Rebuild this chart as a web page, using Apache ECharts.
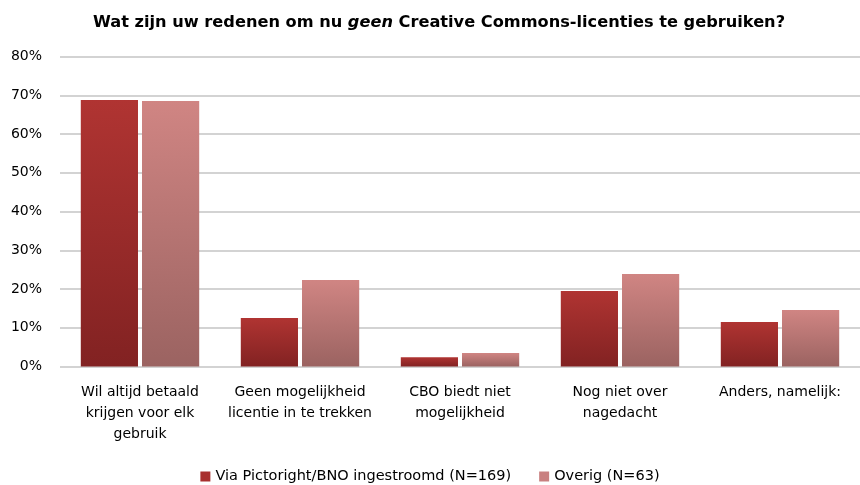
<!DOCTYPE html>
<html><head><meta charset="utf-8">
<script src="https://cdn.jsdelivr.net/npm/echarts@6/dist/echarts.min.js"></script>
<style>html,body{margin:0;padding:0;background:#fff}#c{width:860px;height:485px}</style>
</head><body><div id="c"></div>
<script>
var categories = ['Wil altijd betaald\nkrijgen voor elk\ngebruik', 'Geen mogelijkheid\nlicentie in te trekken', 'CBO biedt niet\nmogelijkheid', 'Nog niet over\nnagedacht', 'Anders, namelijk:'];
var seriesNames = ['Via Pictoright/BNO ingestroomd (N=169)', 'Overig (N=63)'];
var viaValues = [68.8, 12.5, 2.4, 19.5, 11.5];
var overigValues = [68.5, 22.3, 3.5, 23.9, 14.6];
var yTicks = [0, 10, 20, 30, 40, 50, 60, 70, 80];

var font = 'DejaVu Sans, Verdana, sans-serif';
var chart = echarts.init(document.getElementById('c'));
function grad(a, b) {
  return new echarts.graphic.LinearGradient(0, 0, 0, 1, [{offset: 0, color: a}, {offset: 1, color: b}]);
}
chart.setOption({
  animation: false,
  title: {
    text: '{b|Wat zijn uw redenen om nu }{i|geen}{b| Creative Commons-licenties te gebruiken?}',
    left: 434, textAlign: 'center', top: 10,
    textStyle: {
      rich: {
        b: {fontFamily: font, fontSize: 16.2, fontWeight: 'bold', color: '#000'},
        i: {fontFamily: font, fontSize: 16.2, fontWeight: 'bold', fontStyle: 'italic', color: '#000'}
      }
    }
  },
  grid: {left: 60, right: 0, top: 56.5, bottom: 118.5, containLabel: false},
  legend: {
    top: 464, left: 'center', itemWidth: 10, itemHeight: 10, itemGap: 28,
    textStyle: {fontFamily: font, fontSize: 14.5, color: '#000'},
    data: [{name: seriesNames[0], icon: 'rect', itemStyle: {color: '#a82f2e'}}, {name: seriesNames[1], icon: 'rect', itemStyle: {color: '#c98080'}}]
  },
  xAxis: {
    type: 'category', data: categories,
    axisLine: {show: false}, axisTick: {show: false},
    axisLabel: {fontFamily: font, fontSize: 14, color: '#000', margin: 15, lineHeight: 21, interval: 0}
  },
  yAxis: {
    type: 'value', min: 0, max: 80, interval: 10,
    axisLabel: {fontFamily: font, fontSize: 14, color: '#000', formatter: function(v){return v + '%';}, margin: 18},
    axisLine: {show: false}, axisTick: {show: false},
    splitLine: {lineStyle: {color: '#c4c4c4', width: 1.5}}
  },
  series: [
    {name: seriesNames[0], type: 'bar', data: viaValues, barCategoryGap: '26%', barGap: '7%',
     itemStyle: {color: grad('#b03432', '#822222')}},
    {name: seriesNames[1], type: 'bar', data: overigValues,
     itemStyle: {color: grad('#d08583', '#9b6361')}}
  ]
});
</script></body></html>
